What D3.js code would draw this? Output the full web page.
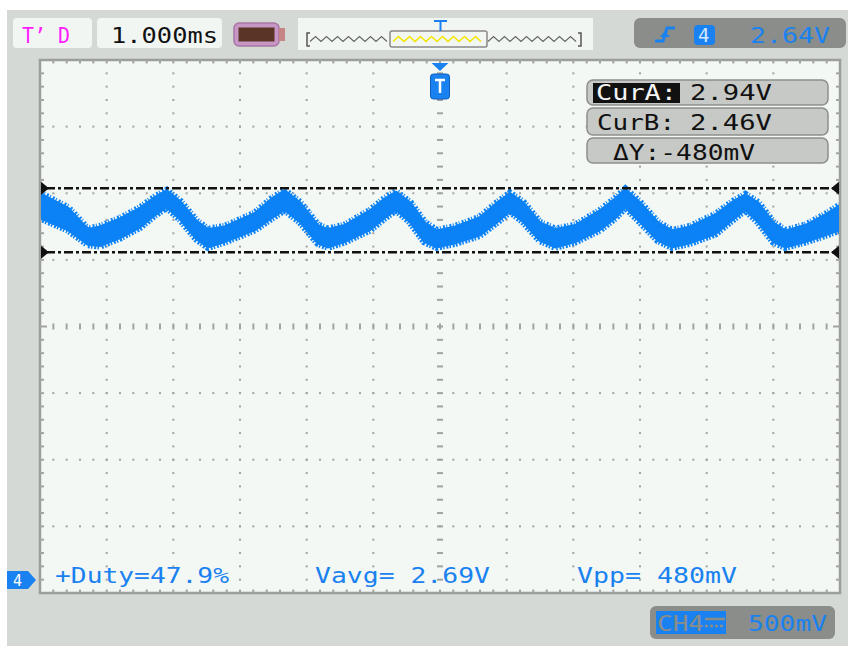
<!DOCTYPE html>
<html>
<head>
<meta charset="utf-8">
<script src="https://cdn.jsdelivr.net/npm/d3@7"></script>
<style>
  html, body { margin: 0; padding: 0; background: #ffffff; }
  svg { display: block; }
  text { font-family: "DejaVu Sans Mono", "Liberation Mono", monospace; }
</style>
</head>
<body>
<svg id="scope" width="850" height="646"></svg>
<script>
// ---------------- data ----------------
const timePerDiv = 1.0;          // ms / div
const voltsPerDiv = 0.5;         // V / div
const timeDivs = 12;
const voltDivs = 8;
const groundDivFromBottom = 0.195;

// waveform envelope (time in ms relative to trigger, volts)
const sampleTimes = [-6.00, -5.58, -5.28, -5.10, -4.80, -4.50, -4.28, -4.10, -3.90, -3.65,
  -3.48, -3.23, -2.78, -2.52, -2.33, -2.10, -1.83, -1.68, -1.43, -1.05,
  -0.83, -0.66, -0.45, -0.23, -0.05, 0.23, 0.60, 0.86, 1.05, 1.25,
  1.50, 1.73, 2.03, 2.40, 2.63, 2.78, 3.00, 3.27, 3.48, 3.75,
  4.13, 4.40, 4.58, 4.77, 5.00, 5.18, 5.48, 5.78, 6.00];
const bandHigh = [2.90, 2.79, 2.63, 2.65, 2.71, 2.79, 2.87, 2.92, 2.84, 2.69,
  2.63, 2.65, 2.75, 2.86, 2.92, 2.83, 2.66, 2.63, 2.66, 2.77,
  2.86, 2.91, 2.83, 2.68, 2.62, 2.65, 2.72, 2.83, 2.90, 2.83,
  2.68, 2.63, 2.66, 2.77, 2.86, 2.93, 2.83, 2.68, 2.62, 2.65,
  2.74, 2.84, 2.89, 2.83, 2.68, 2.62, 2.66, 2.74, 2.81];
const bandLow = [2.72, 2.63, 2.52, 2.51, 2.57, 2.65, 2.74, 2.80, 2.71, 2.56,
  2.50, 2.54, 2.63, 2.72, 2.78, 2.69, 2.53, 2.50, 2.54, 2.63,
  2.72, 2.78, 2.69, 2.54, 2.50, 2.53, 2.59, 2.69, 2.77, 2.69,
  2.55, 2.50, 2.54, 2.63, 2.72, 2.80, 2.69, 2.55, 2.50, 2.53,
  2.60, 2.71, 2.78, 2.69, 2.54, 2.50, 2.54, 2.59, 2.63];

const cursorValues = [2.94, 2.46];
const cursorLabels = ["CurA:", "CurB:", "\u0394Y:-480mV"];
const cursorReadouts = ["2.94V", "2.46V", ""];
const measurementLabels = ["+Duty=47.9%", "Vavg= 2.69V", "Vpp= 480mV"];
const timebaseLabel = "1.000ms";
const modeLabel = "T\u2019 D";
const triggerLevelLabel = "2.64V";
const channelLabel = "CH4";
const scaleLabel = "500mV";

// ---------------- layout ----------------
const plot = { left: 40, top: 60, right: 840, bottom: 593 };
const BLUE = "#1a82f0";
const WAVE = "#0b82f6";
const PANEL = "#d5d9d6";
const SCREEN = "#f4f8f5";
const BOXBG = "#f2f6f3";
const DARKBOX = "#8a8d89";
const GRID = "#a2a4a2";

const svg = d3.select("#scope");

const x = d3.scaleLinear()
  .domain([-timeDivs / 2 * timePerDiv, timeDivs / 2 * timePerDiv])
  .range([plot.left, plot.right]);
const vBottom = -groundDivFromBottom * voltsPerDiv;
const y = d3.scaleLinear()
  .domain([vBottom, vBottom + voltDivs * voltsPerDiv])
  .range([plot.bottom, plot.top]);

// panel
svg.append("rect").attr("x", 7).attr("y", 10).attr("width", 841).attr("height", 636).attr("fill", PANEL);

// ---------------- top bar ----------------
const topBar = svg.append("g");
topBar.append("rect").attr("x", 13).attr("y", 18).attr("width", 79).attr("height", 30).attr("rx", 4).attr("fill", BOXBG);
topBar.append("text").attr("x", 22).attr("y", 43).attr("font-size", 22).attr("fill", "#ff1aff")
  .attr("textLength", 48).attr("lengthAdjust", "spacingAndGlyphs").text(modeLabel);

topBar.append("rect").attr("x", 97).attr("y", 18).attr("width", 125).attr("height", 30).attr("rx", 4).attr("fill", BOXBG);
topBar.append("text").attr("x", 111).attr("y", 43).attr("font-size", 22).attr("fill", "#111")
  .attr("textLength", 107).attr("lengthAdjust", "spacingAndGlyphs").text(timebaseLabel);

// battery icon
topBar.append("rect").attr("x", 234).attr("y", 23).attr("width", 45).attr("height", 23).attr("rx", 5)
  .attr("fill", "#c796c4").attr("stroke", "#a877a5").attr("stroke-width", 1.5);
topBar.append("rect").attr("x", 238.5).attr("y", 27.5).attr("width", 36).attr("height", 14).attr("fill", "#5b3428");
topBar.append("rect").attr("x", 279).attr("y", 28).attr("width", 6).attr("height", 13).attr("fill", "#c58585");

// memory position box
topBar.append("rect").attr("x", 298).attr("y", 18).attr("width", 295).attr("height", 32).attr("fill", BOXBG);
function zig(x0, x1, yc, amp, step) {
  const pts = [];
  let k = 0;
  for (let xx = x0; xx <= x1; xx += step / 2, k++) pts.push([xx, yc + (k % 2 ? -amp : amp)]);
  return d3.line()(pts);
}
topBar.append("path").attr("d", "M310,33 H307 V46 H310").attr("fill", "none").attr("stroke", "#555").attr("stroke-width", 1.5);
topBar.append("path").attr("d", "M578,33 H581 V46 H578").attr("fill", "none").attr("stroke", "#555").attr("stroke-width", 1.5);
topBar.append("path").attr("d", zig(310, 390, 39, 2.5, 11)).attr("fill", "none").attr("stroke", "#666").attr("stroke-width", 1.2);
topBar.append("path").attr("d", zig(488, 578, 39, 2.5, 11)).attr("fill", "none").attr("stroke", "#666").attr("stroke-width", 1.2);
topBar.append("rect").attr("x", 390).attr("y", 31).attr("width", 97).attr("height", 16).attr("rx", 2)
  .attr("fill", "none").attr("stroke", "#888").attr("stroke-width", 1.5);
topBar.append("path").attr("d", zig(393, 485, 39, 2.5, 11)).attr("fill", "none").attr("stroke", "#f2e600").attr("stroke-width", 1.6);
topBar.append("path").attr("d", "M434,21 H447 M440.5,21 V31").attr("stroke", BLUE).attr("stroke-width", 2);

// trigger box (right)
topBar.append("rect").attr("x", 634).attr("y", 18).attr("width", 212).attr("height", 30).attr("rx", 6).attr("fill", DARKBOX);
topBar.append("path").attr("d", "M655,41 H663 L667,28 H675").attr("fill", "none").attr("stroke", BLUE).attr("stroke-width", 3);
topBar.append("path").attr("d", "M660,37 L665,31 L670,37 Z").attr("fill", BLUE);
topBar.append("rect").attr("x", 694).attr("y", 25).attr("width", 21).attr("height", 20).attr("rx", 4).attr("fill", BLUE);
topBar.append("text").attr("x", 698).attr("y", 42).attr("font-size", 19).attr("fill", "#cfe6ff").text("4");
topBar.append("text").attr("x", 750).attr("y", 43).attr("font-size", 22).attr("fill", BLUE)
  .attr("textLength", 80).attr("lengthAdjust", "spacingAndGlyphs").text(triggerLevelLabel);

// ---------------- screen ----------------
svg.append("rect").attr("x", plot.left).attr("y", plot.top)
  .attr("width", plot.right - plot.left).attr("height", plot.bottom - plot.top)
  .attr("fill", SCREEN).attr("stroke", "#9c9e9c").attr("stroke-width", 2.5);

const grid = svg.append("g");
const minorT = d3.range(-timeDivs / 2 * 5 + 1, timeDivs / 2 * 5).map(i => i * timePerDiv / 5);
const majorT = d3.range(-timeDivs / 2 + 1, timeDivs / 2).map(i => i * timePerDiv);
const vMajor = d3.range(1, voltDivs).map(j => vBottom + j * voltsPerDiv);
const vMinor = d3.range(1, voltDivs * 5).map(j => vBottom + j * voltsPerDiv / 5);
const vCenter = vBottom + voltDivs / 2 * voltsPerDiv;

majorT.filter(t => t !== 0).forEach(t => {
  grid.selectAll(null).data(vMinor).enter().append("rect")
    .attr("x", x(t) - 1).attr("y", v => y(v) - 1).attr("width", 2).attr("height", 2).attr("fill", GRID);
});
vMajor.filter(v => Math.abs(v - vCenter) > 1e-6).forEach(v => {
  grid.selectAll(null).data(minorT).enter().append("rect")
    .attr("x", t => x(t) - 1).attr("y", y(v) - 1).attr("width", 2).attr("height", 2).attr("fill", GRID);
});
grid.selectAll(null).data(minorT).enter().append("rect")
  .attr("x", t => x(t) - 1).attr("y", y(vCenter) - 3).attr("width", 2).attr("height", 6).attr("fill", GRID);
grid.selectAll(null).data(vMinor).enter().append("rect")
  .attr("x", x(0) - 3).attr("y", v => y(v) - 1).attr("width", 6).attr("height", 2).attr("fill", GRID);
grid.selectAll(null).data(minorT).enter().append("rect")
  .attr("x", t => x(t) - 1).attr("y", plot.top).attr("width", 2).attr("height", 3.5).attr("fill", GRID);
grid.selectAll(null).data(minorT).enter().append("rect")
  .attr("x", t => x(t) - 1).attr("y", plot.bottom - 3.5).attr("width", 2).attr("height", 3.5).attr("fill", GRID);
grid.selectAll(null).data(vMinor).enter().append("rect")
  .attr("x", plot.left).attr("y", v => y(v) - 1).attr("width", v => Math.abs(v - vCenter) < 1e-6 ? 7 : 4).attr("height", 2).attr("fill", GRID);
grid.selectAll(null).data(vMinor).enter().append("rect")
  .attr("x", v => plot.right - (Math.abs(v - vCenter) < 1e-6 ? 7 : 4)).attr("y", v => y(v) - 1)
  .attr("width", v => Math.abs(v - vCenter) < 1e-6 ? 7 : 4).attr("height", 2).attr("fill", GRID);

svg.append("clipPath").attr("id", "clipScreen").append("rect")
  .attr("x", plot.left + 1).attr("y", plot.top + 1)
  .attr("width", plot.right - plot.left - 2).attr("height", plot.bottom - plot.top - 2);

// waveform band
const band = sampleTimes.map((t, i) => ({ t, hi: bandHigh[i], lo: bandLow[i] }));
const wg = svg.append("g").attr("clip-path", "url(#clipScreen)");
wg.append("path").datum(band)
  .attr("d", d3.area().x(d => x(d.t)).y0(d => y(d.lo)).y1(d => y(d.hi)))
  .attr("fill", WAVE).attr("stroke", WAVE).attr("stroke-width", 3);
wg.append("path").datum(band)
  .attr("d", d3.line().x(d => x(d.t)).y(d => y(d.hi)))
  .attr("fill", "none").attr("stroke", WAVE).attr("stroke-width", 8).attr("stroke-dasharray", "2 1.4 1 2.2");
wg.append("path").datum(band)
  .attr("d", d3.line().x(d => x(d.t)).y(d => y(d.lo)))
  .attr("fill", "none").attr("stroke", WAVE).attr("stroke-width", 8).attr("stroke-dasharray", "1.5 1.8 2 1.2");

// cursors
const cg = svg.append("g");
cursorValues.forEach(v => {
  cg.append("line").attr("x1", plot.left + 6).attr("x2", plot.right - 6)
    .attr("y1", y(v)).attr("y2", y(v))
    .attr("stroke", "#111").attr("stroke-width", 2.5).attr("stroke-dasharray", "9 3 3 3");
  cg.append("path").attr("d", `M${plot.left + 1},${y(v) - 6.5} L${plot.left + 9},${y(v)} L${plot.left + 1},${y(v) + 6.5} Z`).attr("fill", "#111");
  cg.append("path").attr("d", `M${plot.right - 1},${y(v) - 6.5} L${plot.right - 9},${y(v)} L${plot.right - 1},${y(v) + 6.5} Z`).attr("fill", "#111");
});

// trigger position marker
const tm = svg.append("g");
tm.append("path").attr("d", `M${x(0) - 8.5},${plot.top + 3} H${x(0) + 8.5} L${x(0)},${plot.top + 11} Z`).attr("fill", BLUE);
tm.append("rect").attr("x", x(0) - 9.5).attr("y", plot.top + 14).attr("width", 19).attr("height", 25).attr("rx", 3)
  .attr("fill", BLUE).attr("stroke", "#0d5fb8").attr("stroke-width", 1);
tm.append("path").attr("d", `M${x(0) - 5},${plot.top + 20} H${x(0) + 5} M${x(0)},${plot.top + 20} V${plot.top + 33}`)
  .attr("stroke", "#fff").attr("stroke-width", 2.5);

// cursor readout boxes
const rows = [{ y: 80, h: 25 }, { y: 108, h: 27 }, { y: 138, h: 25 }];
const rb = svg.append("g");
rows.forEach(r => {
  rb.append("rect").attr("x", 587).attr("y", r.y).attr("width", 241).attr("height", r.h).attr("rx", 6)
    .attr("fill", "#c6c9c6").attr("stroke", "#8c8e8c").attr("stroke-width", 1.5);
});
rb.append("rect").attr("x", 593).attr("y", 83).attr("width", 87).attr("height", 20).attr("fill", "#111");
rb.append("text").attr("x", 596).attr("y", 100).attr("font-size", 21).attr("fill", "#f4f4f4")
  .attr("textLength", 81).attr("lengthAdjust", "spacingAndGlyphs").text(cursorLabels[0]);
rb.append("text").attr("x", 690).attr("y", 100).attr("font-size", 21).attr("fill", "#111")
  .attr("textLength", 82).attr("lengthAdjust", "spacingAndGlyphs").text(cursorReadouts[0]);
rb.append("text").attr("x", 597).attr("y", 130).attr("font-size", 21).attr("fill", "#111")
  .attr("textLength", 78).attr("lengthAdjust", "spacingAndGlyphs").text(cursorLabels[1]);
rb.append("text").attr("x", 690).attr("y", 130).attr("font-size", 21).attr("fill", "#111")
  .attr("textLength", 82).attr("lengthAdjust", "spacingAndGlyphs").text(cursorReadouts[1]);
rb.append("text").attr("x", 613).attr("y", 160).attr("font-size", 21).attr("fill", "#111")
  .attr("textLength", 142).attr("lengthAdjust", "spacingAndGlyphs").text(cursorLabels[2]);

// measurements
const measX = [55, 315, 577];
const measW = [174, 175, 160];
measurementLabels.forEach((m, i) => {
  svg.append("text").attr("x", measX[i]).attr("y", 583).attr("font-size", 21).attr("fill", BLUE)
    .attr("textLength", measW[i]).attr("lengthAdjust", "spacingAndGlyphs").text(m);
});

// ground marker
const gy = y(0);
svg.append("path").attr("d", `M7,${gy - 9} H28 L36,${gy} L28,${gy + 9} H7 Z`).attr("fill", BLUE);
svg.append("text").attr("x", 13).attr("y", gy + 6).attr("font-size", 15).attr("fill", "#fff").text("4");

// channel scale box
svg.append("rect").attr("x", 650).attr("y", 606).attr("width", 185).attr("height", 33).attr("rx", 6).attr("fill", DARKBOX);
svg.append("rect").attr("x", 656).attr("y", 611).attr("width", 70).attr("height", 23).attr("fill", BLUE);
svg.append("text").attr("x", 657).attr("y", 631).attr("font-size", 22).attr("fill", DARKBOX)
  .attr("textLength", 47).attr("lengthAdjust", "spacingAndGlyphs").text(channelLabel);
svg.append("path").attr("d", "M705,619 H725").attr("stroke", DARKBOX).attr("stroke-width", 2.5);
svg.append("path").attr("d", "M705,626 H725").attr("stroke", DARKBOX).attr("stroke-width", 2.5).attr("stroke-dasharray", "3 2");
svg.append("text").attr("x", 748).attr("y", 631).attr("font-size", 22).attr("fill", BLUE)
  .attr("textLength", 79).attr("lengthAdjust", "spacingAndGlyphs").text(scaleLabel);
</script>
</body>
</html>
